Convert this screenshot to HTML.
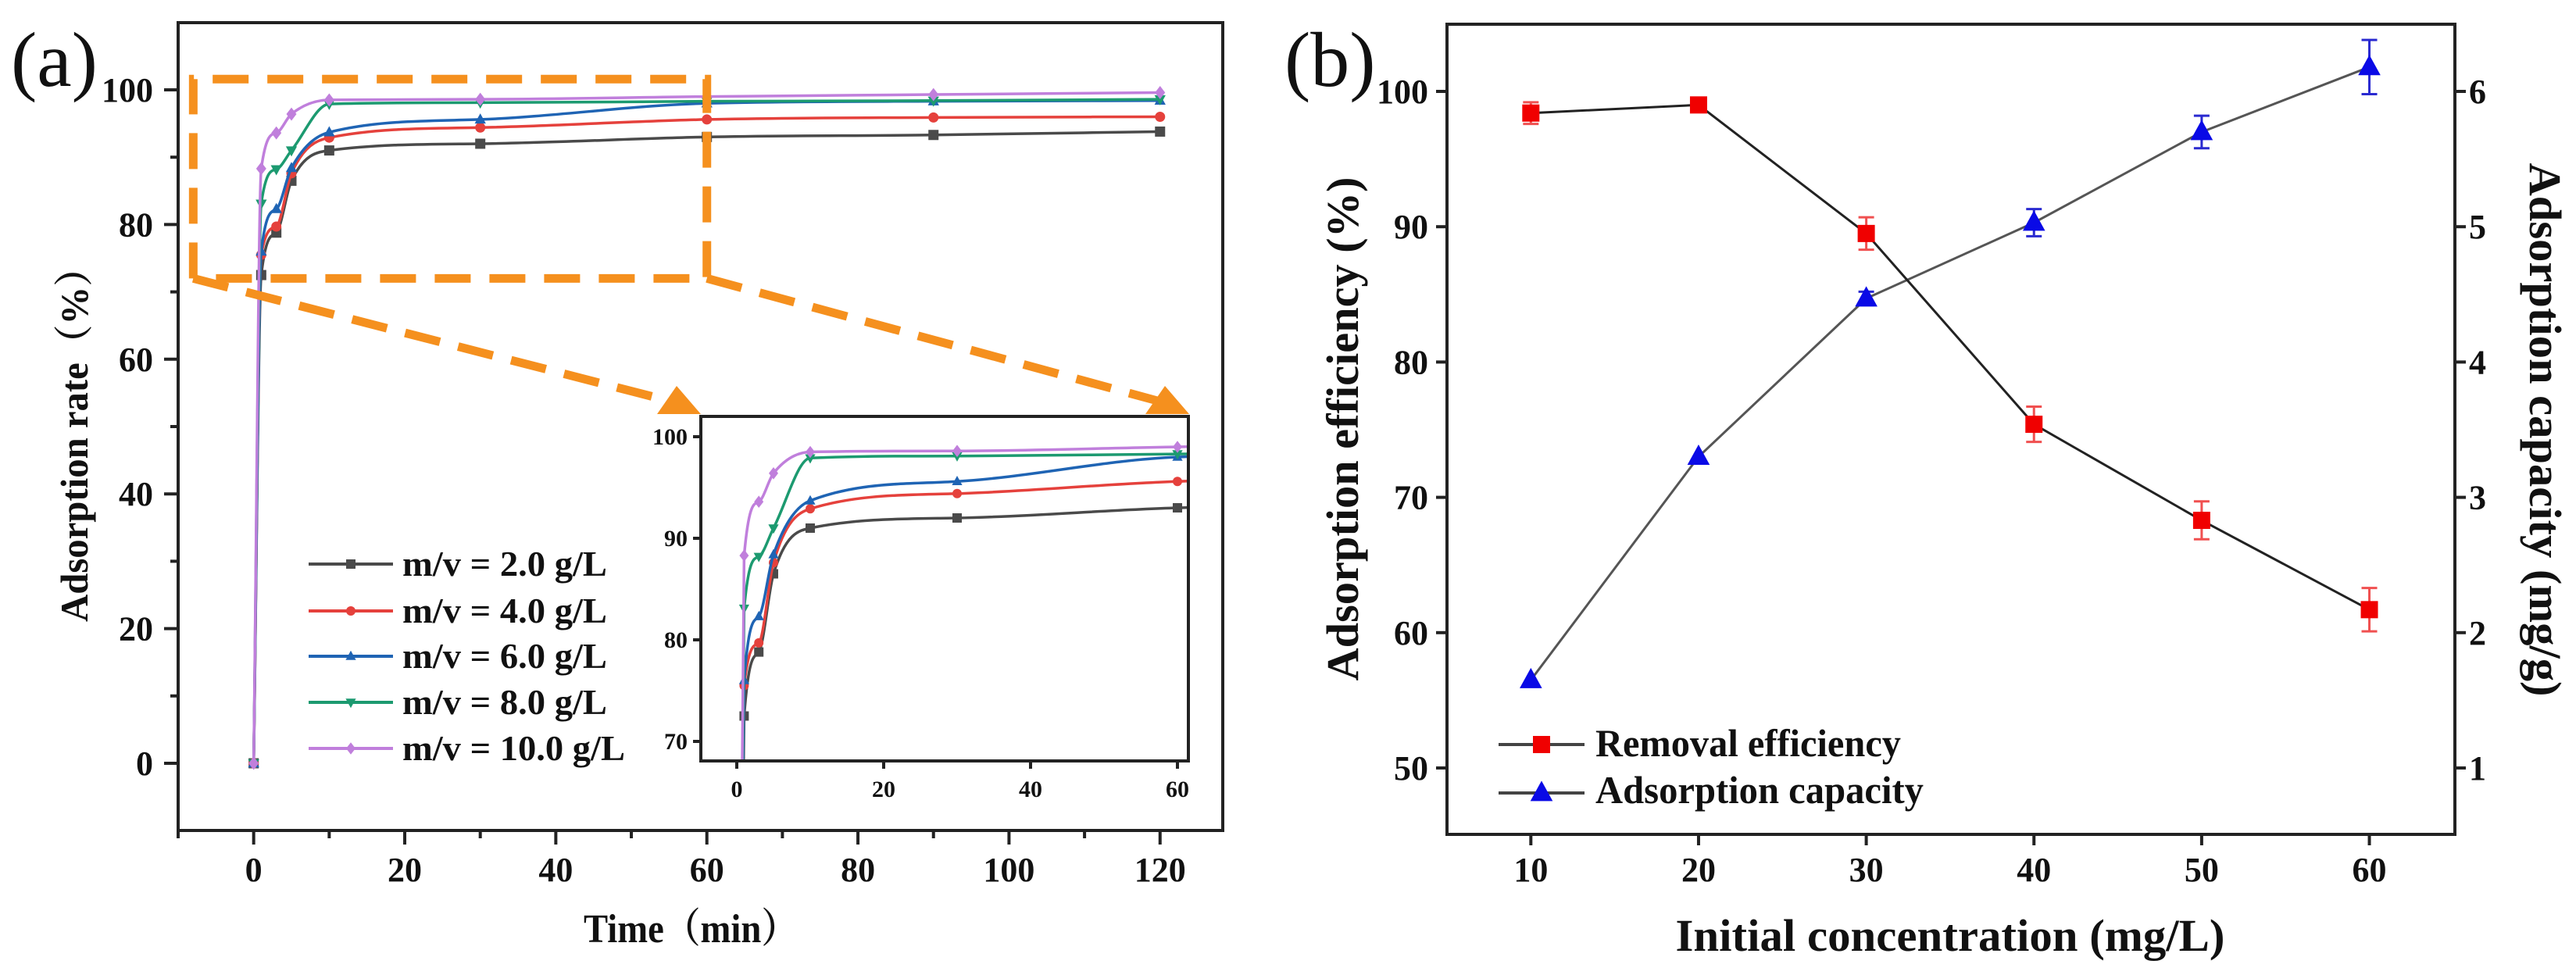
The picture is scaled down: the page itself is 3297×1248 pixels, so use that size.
<!DOCTYPE html>
<html><head><meta charset="utf-8"><style>
html,body{margin:0;padding:0;background:#fff;width:3297px;height:1248px;overflow:hidden}
svg{display:block}
text{font-family:"Liberation Serif","Noto Serif CJK SC",serif;font-weight:bold;fill:#111}
</style></head><body>
<svg id="fig" width="3297" height="1248" viewBox="0 0 3297 1248" xmlns="http://www.w3.org/2000/svg">
<rect width="3297" height="1248" fill="#fff"/>
<g id="pa"></g>
<g id="pb"></g>
</svg>
<script>
// ---- Panel (a) data ----
const timesA = [0, 1, 3, 5, 10, 30, 60, 90, 120];
const seriesNames = ["m/v = 2.0 g/L", "m/v = 4.0 g/L", "m/v = 6.0 g/L", "m/v = 8.0 g/L", "m/v = 10.0 g/L"];
const rate2 = [0, 72.5, 78.8, 86.5, 91.0, 92.0, 93.0, 93.3, 93.8];
const rate4 = [0, 75.5, 79.7, 87.6, 92.9, 94.4, 95.6, 95.9, 96.0];
const rate6 = [0, 76.0, 82.3, 88.4, 93.7, 95.6, 98.0, 98.3, 98.4];
const rate8 = [0, 83.1, 88.2, 91.0, 97.9, 98.1, 98.3, 98.4, 98.6];
const rate10 = [0, 88.3, 93.6, 96.4, 98.5, 98.6, 99.0, 99.3, 99.6];
const xTicksA = [0, 20, 40, 60, 80, 100, 120];
const yTicksA = [0, 20, 40, 60, 80, 100];
const insetXTicks = [0, 20, 40, 60];
const insetYTicks = [70, 80, 90, 100];
// ---- Panel (b) data ----
const concB = [10, 20, 30, 40, 50, 60];
const removalEff = [98.4, 99.0, 89.5, 75.4, 68.3, 61.7];
const removalErr = [0.8, 0.5, 1.2, 1.3, 1.4, 1.6];
const adsCap = [1.65, 3.3, 4.47, 5.03, 5.7, 6.18];
const adsErr = [0.0, 0.0, 0.05, 0.1, 0.12, 0.2];
const xTicksB = [10, 20, 30, 40, 50, 60];
const yTicksBL = [50, 60, 70, 80, 90, 100];
const yTicksBR = [1, 2, 3, 4, 5, 6];

const NS = "http://www.w3.org/2000/svg";
function mk(parent, tag, attrs, txt) {
  const e = document.createElementNS(NS, tag);
  for (const k in attrs) e.setAttribute(k, attrs[k]);
  if (txt !== undefined) e.textContent = txt;
  parent.appendChild(e);
  return e;
}
function lin(d0, d1, p0, p1) { return v => p0 + (v - d0) * (p1 - p0) / (d1 - d0); }
function smoothPath(pts) {
  const n = pts.length; if (n < 2) return "";
  const dx = [], dy = [], m = [];
  for (let i = 0; i < n - 1; i++) { dx.push(pts[i+1][0]-pts[i][0]); dy.push(pts[i+1][1]-pts[i][1]); m.push(dy[i]/dx[i]); }
  const t = [m[0]];
  for (let i = 1; i < n - 1; i++) t.push(m[i-1]*m[i] <= 0 ? 0 : (m[i-1]+m[i])/2);
  t.push(m[n-2]);
  for (let i = 0; i < n - 1; i++) {
    if (m[i] === 0) { t[i] = 0; t[i+1] = 0; continue; }
    const a = t[i]/m[i], b = t[i+1]/m[i], s = a*a + b*b;
    if (s > 9) { const k = 3/Math.sqrt(s); t[i] = k*a*m[i]; t[i+1] = k*b*m[i]; }
  }
  let d = "M" + pts[0][0] + "," + pts[0][1];
  for (let i = 0; i < n - 1; i++) {
    const h = dx[i]/3;
    d += " C" + (pts[i][0]+h) + "," + (pts[i][1]+t[i]*h) + " " + (pts[i+1][0]-h) + "," + (pts[i+1][1]-t[i+1]*h) + " " + pts[i+1][0] + "," + pts[i+1][1];
  }
  return d;
}
function marker(g, type, x, y, s, color) {
  if (type === "sq") return mk(g, "rect", {x: x-s, y: y-s, width: 2*s, height: 2*s, fill: color});
  if (type === "ci") return mk(g, "circle", {cx: x, cy: y, r: s, fill: color});
  if (type === "tu") return mk(g, "polygon", {points: `${x},${y-s*1.2} ${x-s*1.1},${y+s*0.8} ${x+s*1.1},${y+s*0.8}`, fill: color});
  if (type === "td") return mk(g, "polygon", {points: `${x},${y+s*1.2} ${x-s*1.1},${y-s*0.8} ${x+s*1.1},${y-s*0.8}`, fill: color});
  return mk(g, "polygon", {points: `${x},${y-s*1.3} ${x-s},${y} ${x},${y+s*1.3} ${x+s},${y}`, fill: color});
}

// ================= PANEL A =================
const pa = document.getElementById("pa");
const A = {l: 228, r: 1565, t: 29, b: 1063};
const xA = lin(-10, 128.3, A.l, A.r);
const yA = lin(0, 100, 977, 115);
const colors = ["#4a4a4a", "#e5413c", "#1f64b4", "#1c9a70", "#c07fdc"];
const mtypes = ["sq", "ci", "tu", "td", "di"];
const dataA = [rate2, rate4, rate6, rate8, rate10];

const lblA = mk(pa, "text", {x: 14, y: 110, "font-size": 100, style: "font-weight:normal", fill: "#333"}, "(a)");



dataA.forEach((arr, si) => {
  const g = mk(pa, "g", {});
  
  
  const pts = timesA.map((t, i) => [xA(t), yA(arr[i])]);
  mk(g, "path", {d: smoothPath(pts), fill: "none", stroke: colors[si], "stroke-width": 3.5});
  pts.forEach(p => marker(g, mtypes[si], p[0], p[1], 6.5, colors[si]));
});

const og = mk(pa, "g", {fill: "none", stroke: "#f5901e", "stroke-width": 11, "stroke-dasharray": "46 24"});


const bx0 = xA(-8), bx1 = xA(60), by0 = yA(101.6), by1 = yA(72);
mk(og, "polyline", {points: `${bx0},${by1} ${bx0},${by0} ${bx1},${by0} ${bx1},${by1} ${bx0},${by1}`});
mk(og, "line", {x1: bx0, y1: by1, x2: 860, y2: 514});
mk(og, "line", {x1: bx1, y1: by1, x2: 1485, y2: 514});
const ah = mk(pa, "g", {fill: "#f5901e"});


mk(ah, "polygon", {points: "897,530 841,530 866,494"});
mk(ah, "polygon", {points: "1522,530 1466,530 1491,494"});

const axA = mk(pa, "g", {stroke: "#222", "stroke-width": 4, fill: "none"});


mk(axA, "rect", {x: A.l, y: A.t, width: A.r - A.l, height: A.b - A.t});
for (let v = -10; v <= 120; v += 10) {
  const y = yA(v); if (y < A.t || y > A.b) continue;
  mk(axA, "line", {x1: A.l, y1: y, x2: A.l - (v % 20 === 0 ? 18 : 10), y2: y});
}
for (let v = -10; v <= 125; v += 10) {
  const x = xA(v); if (x < A.l || x > A.r) continue;
  mk(axA, "line", {x1: x, y1: A.b, x2: x, y2: A.b + (v % 20 === 0 ? 18 : 10)});
}
yTicksA.forEach(v => {
  const t = mk(pa, "text", {x: 196, y: yA(v) + 15, "font-size": 44, "text-anchor": "end"}, v);
  
  
});
xTicksA.forEach(v => {
  const t = mk(pa, "text", {x: xA(v), y: 1128, "font-size": 44, "text-anchor": "middle"}, v);
  
  
});
const ytA = mk(pa, "text", {x: 0, y: 0, "font-size": 50, "text-anchor": "middle", textLength: 478, lengthAdjust: "spacingAndGlyphs", transform: "translate(112,557) rotate(-90)"}, "Adsorption rate（%）");


const xtA = mk(pa, "text", {x: 884, y: 1206, "font-size": 52, "text-anchor": "middle", textLength: 274, lengthAdjust: "spacingAndGlyphs"}, "Time（min）");



const lgA = mk(pa, "g", {});


const legY = [722, 782, 840, 899, 958];
seriesNames.forEach((nm, i) => {
  const e = mk(lgA, "g", {});
  
  
  mk(e, "line", {x1: 395, y1: legY[i], x2: 503, y2: legY[i], stroke: colors[i], "stroke-width": 4});
  marker(e, mtypes[i], 449, legY[i], 6, colors[i]);
  mk(e, "text", {x: 515, y: legY[i] + 15, "font-size": 46, textLength: i === 4 ? 285 : 262, lengthAdjust: "spacingAndGlyphs"}, nm);
});

const I = {l: 897, r: 1521, t: 533, b: 974};
const xI = lin(0, 60, 943, 1507);
const yI = lin(70, 100, 949, 559);
const ig = mk(pa, "g", {});


mk(ig, "rect", {x: I.l, y: I.t, width: I.r - I.l, height: I.b - I.t, fill: "#fff"});
mk(ig, "clipPath", {id: "iclip"});
mk(document.getElementById("iclip"), "rect", {x: I.l, y: I.t, width: I.r - I.l, height: I.b - I.t});
const igs = mk(ig, "g", {"clip-path": "url(#iclip)"});
dataA.forEach((arr, si) => {
  const g = mk(igs, "g", {});
  
  
  const pts = [];
  timesA.forEach((t, i) => { if (t <= 90) pts.push([xI(t), yI(arr[i])]); });
  mk(g, "path", {d: smoothPath(pts), fill: "none", stroke: colors[si], "stroke-width": 3.5});
  pts.forEach((p, i) => { if (timesA[i] > 0) marker(g, mtypes[si], p[0], p[1], 6, colors[si]); });
});
const axI = mk(ig, "g", {stroke: "#222", "stroke-width": 4, fill: "none"});
mk(axI, "rect", {x: I.l, y: I.t, width: I.r - I.l, height: I.b - I.t});
insetYTicks.forEach(v => {
  mk(axI, "line", {x1: I.l, y1: yI(v), x2: I.l - 10, y2: yI(v)});
  const t = mk(ig, "text", {x: 880, y: yI(v) + 10, "font-size": 30, "text-anchor": "end"}, v);
  
  
});
insetXTicks.forEach(v => {
  mk(axI, "line", {x1: xI(v), y1: I.b, x2: xI(v), y2: I.b + 10});
  const t = mk(ig, "text", {x: xI(v), y: 1020, "font-size": 30, "text-anchor": "middle"}, v);
  
  
});

// ================= PANEL B =================
const pb = document.getElementById("pb");
const B = {l: 1852, r: 3142, t: 31, b: 1068};
const xB = lin(5, 65.1, B.l, B.r);
const yBL = lin(50, 100, 983, 117);
const yBR = lin(1, 6, 983, 117);
const lblB = mk(pb, "text", {x: 1644, y: 110, "font-size": 100, style: "font-weight:normal", fill: "#333"}, "(b)");



const capG = mk(pb, "g", {});


mk(capG, "polyline", {points: concB.map((c, i) => xB(c) + "," + yBR(adsCap[i])).join(" "), fill: "none", stroke: "#555", "stroke-width": 3});
concB.forEach((c, i) => {
  const x = xB(c), y = yBR(adsCap[i]);
  if (adsErr[i] > 0) {
    const y0 = yBR(adsCap[i] - adsErr[i]), y1 = yBR(adsCap[i] + adsErr[i]);
    mk(capG, "path", {d: `M${x},${y0} V${y1} M${x-10},${y0} H${x+10} M${x-10},${y1} H${x+10}`, stroke: "#2a2ad0", "stroke-width": 3, fill: "none"});
  }
  marker(capG, "tu", x, y, 13, "#0a0ae6");
});
const remG = mk(pb, "g", {});


mk(remG, "polyline", {points: concB.map((c, i) => xB(c) + "," + yBL(removalEff[i])).join(" "), fill: "none", stroke: "#222", "stroke-width": 3});
concB.forEach((c, i) => {
  const x = xB(c), y = yBL(removalEff[i]);
  const y0 = yBL(removalEff[i] - removalErr[i]), y1 = yBL(removalEff[i] + removalErr[i]);
  mk(remG, "path", {d: `M${x},${y0} V${y1} M${x-10},${y0} H${x+10} M${x-10},${y1} H${x+10}`, stroke: "#f05050", "stroke-width": 3, fill: "none"});
  marker(remG, "sq", x, y, 11, "#f00000");
});

const axB = mk(pb, "g", {stroke: "#222", "stroke-width": 4, fill: "none"});


mk(axB, "rect", {x: B.l, y: B.t, width: B.r - B.l, height: B.b - B.t});
yTicksBL.forEach(v => {
  mk(axB, "line", {x1: B.l, y1: yBL(v), x2: B.l - 14, y2: yBL(v)});
  const t = mk(pb, "text", {x: 1828, y: yBL(v) + 15, "font-size": 44, "text-anchor": "end"}, v);
  
  
});
yTicksBR.forEach(v => {
  mk(axB, "line", {x1: B.r, y1: yBR(v), x2: B.r + 14, y2: yBR(v)});
  const t = mk(pb, "text", {x: 3160, y: yBR(v) + 15, "font-size": 44}, v);
  
  
});
xTicksB.forEach(v => {
  mk(axB, "line", {x1: xB(v), y1: B.b, x2: xB(v), y2: B.b + 14});
  const t = mk(pb, "text", {x: xB(v), y: 1128, "font-size": 44, "text-anchor": "middle"}, v);
  
  
});
const ytBL = mk(pb, "text", {x: 0, y: 0, "font-size": 58, "text-anchor": "middle", textLength: 645, lengthAdjust: "spacingAndGlyphs", transform: "translate(1738,549) rotate(-90)"}, "Adsorption efficiency (%)");


const ytBR = mk(pb, "text", {x: 0, y: 0, "font-size": 58, "text-anchor": "middle", textLength: 683, lengthAdjust: "spacingAndGlyphs", transform: "translate(3238,550) rotate(90)"}, "Adsorption capacity (mg/g)");


const xtB = mk(pb, "text", {x: 2496, y: 1217, "font-size": 58, "text-anchor": "middle", textLength: 703, lengthAdjust: "spacingAndGlyphs"}, "Initial concentration (mg/L)");



const lgB = mk(pb, "g", {});


const e1 = mk(lgB, "g", {});


mk(e1, "line", {x1: 1918, y1: 953, x2: 2028, y2: 953, stroke: "#444", "stroke-width": 4});
marker(e1, "sq", 1973, 953, 11, "#f00000");
mk(e1, "text", {x: 2042, y: 968, "font-size": 50, textLength: 391, lengthAdjust: "spacingAndGlyphs"}, "Removal efficiency");
const e2 = mk(lgB, "g", {});


mk(e2, "line", {x1: 1918, y1: 1015, x2: 2028, y2: 1015, stroke: "#444", "stroke-width": 4});
marker(e2, "tu", 1973, 1015, 13, "#0a0ae6");
mk(e2, "text", {x: 2042, y: 1028, "font-size": 50, textLength: 420, lengthAdjust: "spacingAndGlyphs"}, "Adsorption capacity");
</script>
</body></html>
